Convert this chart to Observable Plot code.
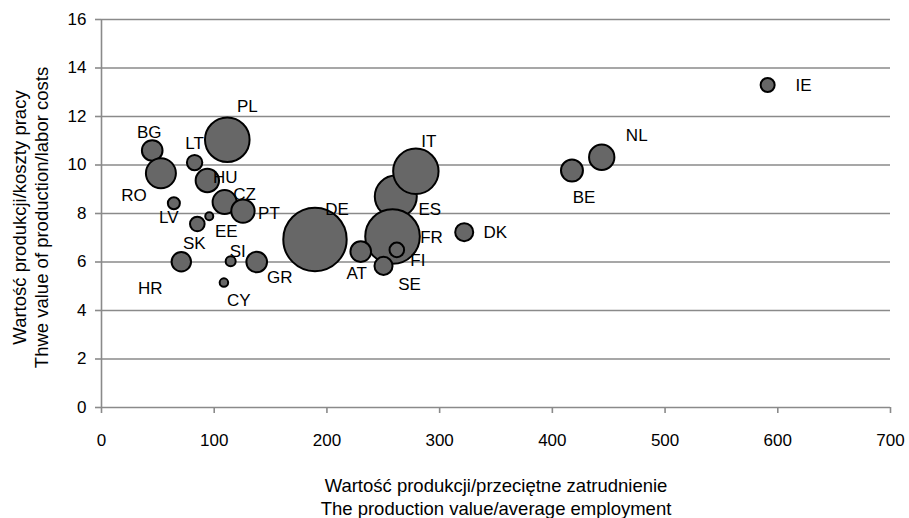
<!DOCTYPE html>
<html>
<head>
<meta charset="utf-8">
<script src="https://cdn.jsdelivr.net/npm/d3@7"></script>
<script src="https://cdn.jsdelivr.net/npm/@observablehq/plot@0.6"></script>
<style>
  html, body { margin: 0; padding: 0; background: white; }
</style>
</head>
<body>
<div id="chart"></div>
<script>
// Data (drawing order matters: later drawn on top)
const countries = ["DE","ES","IT","FR","FI","SE","AT","PL","BG","RO","LT","HU","CZ","PT","LV","SK","EE","HR","SI","GR","CY","DK","IE","NL","BE"];
const productivity = [189.4,261.1,278.9,258.2,262.0,250.2,230.0,111.6,45.0,52.7,82.6,93.9,109.2,125.5,64.2,85.0,95.6,70.8,114.6,137.7,108.6,321.8,591.0,443.8,417.4];
const laborRatio   = [6.93,8.70,9.74,7.05,6.50,5.84,6.43,11.04,10.60,9.66,10.10,9.36,8.47,8.10,8.42,7.57,7.89,6.01,6.03,6.00,5.15,7.23,13.30,10.32,9.77];
const bubbleSize   = [100,43.9,51.3,74.2,5.3,8.1,10.6,49.5,10.6,22.4,5.9,13.6,14.3,13.6,3.6,5.3,1.6,9.4,2.5,10.6,1.8,8.1,4.9,16,12];
const xTicks = [0,100,200,300,400,500,600,700];
const yTicks = [0,2,4,6,8,10,12,14,16];
const xTitle = "Wartość produkcji/przeciętne zatrudnienie\nThe production value/average employment";
const yTitle = "Wartość produkcji/koszty pracy\nThwe value of production/labor costs";

// Label placement (pixel offsets from bubble centre) – layout only
const labelOffset = {
  DE:[22,-30], ES:[34,13], IT:[13,-30], FR:[39,1], FI:[21,11], SE:[26,19], AT:[-4,22],
  PL:[20,-33], BG:[-3,-18], RO:[-27,22], LT:[0,-19], HU:[18,-3], CZ:[20,-8], PT:[26,2],
  LV:[-5,14], SK:[-3,20], EE:[17,15], HR:[-31,27], SI:[7,-10], GR:[23,16], CY:[15,18],
  DK:[31,0], IE:[36,1], NL:[35,-22], BE:[12,27]
};

const data = countries.map((c, i) => ({country: c, x: productivity[i], y: laborRatio[i], s: bubbleSize[i]}));

const grid = "#8a8a8a";
const font = "'Liberation Sans', Arial, sans-serif";

const labelMarks = data.map(d => Plot.text([d], {
  x: "x", y: "y", text: "country",
  dx: labelOffset[d.country][0], dy: labelOffset[d.country][1],
  fill: "black", fontSize: 17
}));

const chart = Plot.plot({
  width: 909,
  height: 518,
  marginLeft: 101,
  marginRight: 19,
  marginTop: 19,
  marginBottom: 111,
  style: {fontFamily: font, fontSize: "17px", background: "white", color: "black", overflow: "visible"},
  x: {domain: [0, 700]},
  y: {domain: [0, 16]},
  r: {type: "sqrt", domain: [0, 100], range: [0, 31.7]},
  marks: [
    Plot.ruleY(yTicks, {stroke: grid, strokeWidth: 1.6}),
    Plot.ruleX([0], {stroke: grid, strokeWidth: 1.6}),
    Plot.axisX({ticks: xTicks, tickSize: 6, tickPadding: 20, stroke: grid, strokeWidth: 1.6, fill: "black", fontSize: 17, label: null, tickFormat: d => String(d)}),
    Plot.axisY({ticks: yTicks, tickSize: 6, tickPadding: 9, stroke: grid, strokeWidth: 1.6, fill: "black", fontSize: 17, label: null, tickFormat: d => String(d)}),
    Plot.dot(data, {x: "x", y: "y", r: "s", fill: "#676767", stroke: "black", strokeWidth: 2, sort: null}),
    ...labelMarks,
    Plot.text([xTitle], {frameAnchor: "bottom", textAnchor: "middle", dy: 88.5, lineAnchor: "middle", lineHeight: 1.24, fill: "black", fontSize: 18.5}),
    Plot.text([yTitle], {frameAnchor: "left", textAnchor: "middle", dx: -71.5, dy: 4, rotate: -90, lineAnchor: "middle", lineHeight: 1.19, fill: "black", fontSize: 18.5})
  ]
});

document.getElementById("chart").appendChild(chart);
</script>
</body>
</html>
